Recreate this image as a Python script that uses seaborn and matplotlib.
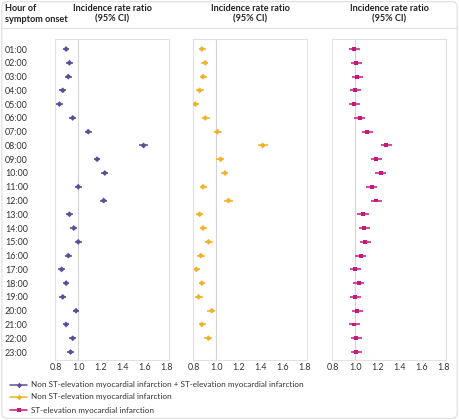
import numpy as np
import matplotlib
matplotlib.use("Agg")
import matplotlib.pyplot as plt
import seaborn as sns
from matplotlib.patches import FancyBboxPatch
from matplotlib.lines import Line2D

# -----------------------------
# DATA
# -----------------------------
hours = ["01:00", "02:00", "03:00", "04:00", "05:00", "06:00", "07:00", "08:00",
         "09:00", "10:00", "11:00", "12:00", "13:00", "14:00", "15:00", "16:00",
         "17:00", "18:00", "19:00", "20:00", "21:00", "22:00", "23:00"]

all_irr = [0.89, 0.92, 0.91, 0.86, 0.83, 0.95, 1.09, 1.59, 1.17, 1.24, 1.00, 1.23,
           0.92, 0.96, 1.00, 0.91, 0.85, 0.89, 0.86, 0.98, 0.89, 0.95, 0.93]
all_lo = [0.86, 0.89, 0.88, 0.83, 0.80, 0.92, 1.06, 1.55, 1.14, 1.21, 0.97, 1.20,
          0.89, 0.93, 0.97, 0.88, 0.82, 0.86, 0.83, 0.95, 0.86, 0.92, 0.90]
all_hi = [0.92, 0.95, 0.94, 0.89, 0.86, 0.98, 1.12, 1.63, 1.20, 1.27, 1.03, 1.26,
          0.95, 0.99, 1.03, 0.94, 0.88, 0.92, 0.89, 1.01, 0.92, 0.98, 0.96]

nstemi_irr = [0.87, 0.90, 0.88, 0.85, 0.81, 0.90, 1.01, 1.42, 1.04, 1.08, 0.88, 1.11,
              0.85, 0.88, 0.93, 0.86, 0.82, 0.87, 0.84, 0.96, 0.87, 0.93, np.nan]
nstemi_lo = [0.84, 0.86, 0.85, 0.82, 0.78, 0.87, 0.98, 1.38, 1.00, 1.04, 0.85, 1.07,
             0.82, 0.85, 0.90, 0.83, 0.79, 0.84, 0.81, 0.92, 0.84, 0.89, np.nan]
nstemi_hi = [0.91, 0.93, 0.92, 0.89, 0.84, 0.94, 1.05, 1.47, 1.07, 1.11, 0.92, 1.15,
             0.88, 0.92, 0.97, 0.90, 0.85, 0.90, 0.88, 0.99, 0.91, 0.96, np.nan]

stemi_irr = [0.99, 1.01, 1.02, 1.00, 0.99, 1.04, 1.11, 1.28, 1.19, 1.23, 1.15, 1.19,
             1.07, 1.08, 1.09, 1.05, 1.00, 1.03, 1.00, 1.02, 0.99, 1.01, 1.01]
stemi_lo = [0.94, 0.96, 0.97, 0.95, 0.94, 0.99, 1.06, 1.23, 1.14, 1.18, 1.10, 1.14,
            1.02, 1.03, 1.04, 1.00, 0.95, 0.98, 0.95, 0.97, 0.94, 0.96, 0.96]
stemi_hi = [1.04, 1.06, 1.07, 1.05, 1.04, 1.09, 1.16, 1.33, 1.24, 1.28, 1.20, 1.24,
            1.12, 1.13, 1.14, 1.10, 1.05, 1.08, 1.05, 1.07, 1.04, 1.06, 1.06]

series_names = ["Non ST-elevation myocardial infarction + ST-elevation myocardial infarction",
                "Non ST-elevation myocardial infarction",
                "ST-elevation myocardial infarction"]
colors = ["#5b4e9c", "#f2b12a", "#c8177f"]
markers = ["D", "D", "s"]
xticks = [0.8, 1.0, 1.2, 1.4, 1.6, 1.8]

sns.set_style("white")
plt.rcParams["font.family"] = ["Lato", "DejaVu Sans"]

fig = plt.figure(figsize=(4.59, 4.2), dpi=100)

# outer frame + header separator
fig.patches.append(FancyBboxPatch((0.004, 0.004), 0.992, 0.992,
                                  boxstyle="round,pad=0,rounding_size=0.012",
                                  transform=fig.transFigure, fill=False,
                                  edgecolor="#dddddd", linewidth=0.8))
fig.add_artist(Line2D([0.004, 0.996], [1 - 28 / 420, 1 - 28 / 420],
                      transform=fig.transFigure, color="#e3e3e3", lw=0.8))

fig.text(5 / 459, 1 - 14 / 420, "Hour of\nsymptom onset", fontsize=6.6,
         fontweight="bold", ha="left", va="center", linespacing=1.2, color="#222222")

lefts = [55 / 459, 193 / 459, 332 / 459]
width = 114 / 459
bottom = 1 - 360 / 420
height = (360 - 39) / 420

ypos = np.arange(len(hours))
data = [(all_irr, all_lo, all_hi), (nstemi_irr, nstemi_lo, nstemi_hi),
        (stemi_irr, stemi_lo, stemi_hi)]

for i, (est, lo, hi) in enumerate(data):
    ax = fig.add_axes([lefts[i], bottom, width, height])
    est = np.array(est)
    ax.axvline(1.0, color="#d4d4d4", lw=0.8, zorder=0)
    ax.hlines(ypos, lo, hi, color=colors[i], lw=1.1, zorder=2)
    sns.scatterplot(x=est, y=ypos, ax=ax, color=colors[i], marker=markers[i],
                    s=9 if markers[i] == "D" else 8, edgecolor="none", zorder=3)
    ax.set_xlim(0.79, 1.82)
    ax.set_ylim(22.58, -0.73)
    ax.set_xticks(xticks)
    ax.set_xticklabels([f"{t:.1f}" for t in xticks], fontsize=6.4, color="#333333")
    ax.tick_params(axis="x", length=0, pad=2)
    if i == 0:
        ax.set_yticks(ypos)
        ax.set_yticklabels(hours, fontsize=6.4, color="#333333", ha="left")
        ax.tick_params(axis="y", length=0, pad=36)
    else:
        ax.set_yticks([])
    for sp in ax.spines.values():
        sp.set_color("#e2e2e2")
        sp.set_linewidth(0.8)
    ax.set_xlabel("")
    ax.set_ylabel("")
    fig.text(lefts[i] + width / 2, 1 - 14 / 420, "Incidence rate ratio\n(95% CI)",
             fontsize=6.6, fontweight="bold", ha="center", va="center",
             linespacing=1.2, color="#222222")

# legend
leg_y = [385, 397, 410]
for i in range(3):
    yy = 1 - leg_y[i] / 420
    fig.add_artist(Line2D([10 / 459, 27 / 459], [yy, yy], transform=fig.transFigure,
                          color=colors[i], lw=1.1))
    fig.add_artist(Line2D([18.5 / 459], [yy], transform=fig.transFigure,
                          color=colors[i], marker=markers[i], markersize=2.8,
                          markeredgewidth=0, linestyle="none"))
    fig.text(31 / 459, yy, series_names[i], fontsize=5.9, ha="left", va="center",
             color="#333333")

fig.savefig("out.png", dpi=100)
